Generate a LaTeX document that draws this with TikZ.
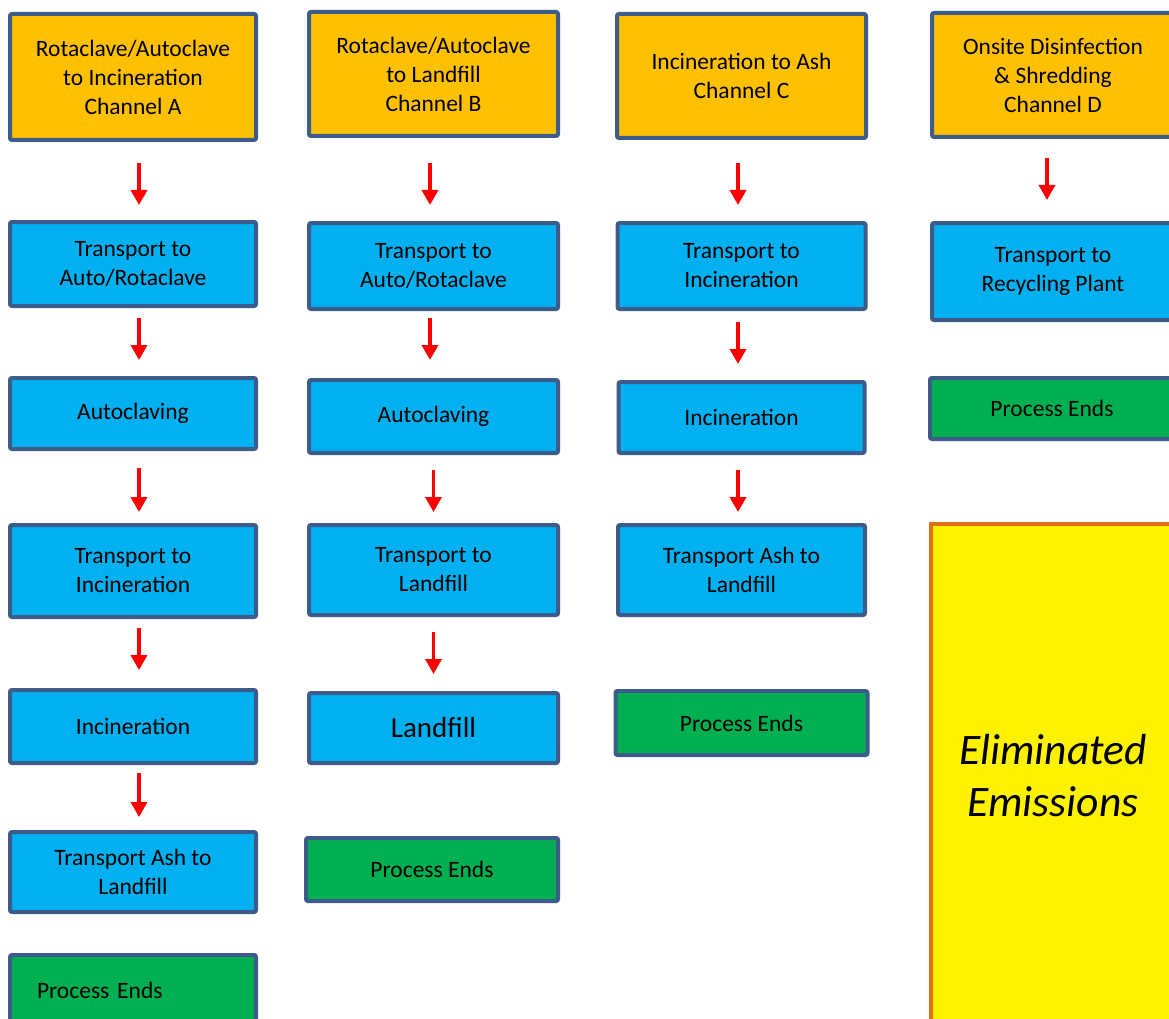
\documentclass[tikz,border=0pt]{standalone}
\usepackage{fontspec}
\setmainfont{Carlito}
\usetikzlibrary{arrows.meta}

\definecolor{hdorange}{RGB}{255,192,0}
\definecolor{stblue}{RGB}{0,176,240}
\definecolor{endgreen}{RGB}{0,176,80}
\definecolor{boxedge}{RGB}{62,92,138}
\definecolor{elimedge}{RGB}{226,112,24}

\begin{document}
\begin{tikzpicture}[
  x=1pt, y=-1pt,
  box/.style={draw=boxedge, line width=4pt, rounded corners=2pt, align=center,
              font=\fontsize{23.5}{29}\selectfont, inner sep=2pt},
  head/.style ={box, fill=hdorange},
  stage/.style={box, fill=stblue},
  finish/.style={box, fill=endgreen},
  elim/.style={draw=elimedge, line width=4pt, fill=yellow, align=center,
               font=\fontsize{43.5}{52}\selectfont\itshape},
  flow/.style={-{Triangle[width=16pt,length=15pt]}, red, line width=3.5pt},
]
  \useasboundingbox (0,0) rectangle (1169,1019);

  % channel A
  \node[head,  minimum width=246, minimum height=126] (a0) at (133, 77)
    {Rotaclave/Autoclave\\to Incineration\\Channel A};
  \node[stage, minimum width=246, minimum height=84]  (a1) at (133,264)
    {Transport to\\Auto/Rotaclave};
  \node[stage, minimum width=246, minimum height=71]  (a2) at (133,413.5) {Autoclaving};
  \node[stage, minimum width=246, minimum height=92]  (a3) at (133,571)
    {Transport to\\Incineration};
  \node[stage, minimum width=246, minimum height=73]  (a4) at (133,726.5) {Incineration};
  \node[stage, minimum width=246, minimum height=80]  (a5) at (133,872)
    {Transport Ash to\\Landfill};
  \node[finish, minimum width=246, minimum height=70, text width=192,
        inner xsep=27, align=left] (a6) at (133,990) {Process Ends};

  \draw[flow] ([xshift=6pt,yshift=-21pt]a0.south) -- ([xshift=6pt,yshift=15pt]a1.north);
  \draw[flow] ([xshift=6pt,yshift=-10pt]a1.south) -- ([xshift=6pt,yshift=16pt]a2.north);
  \draw[flow] ([xshift=6pt,yshift=-17pt]a2.south) -- ([xshift=6pt,yshift=11pt]a3.north);
  \draw[flow] ([xshift=6pt,yshift=-9pt]a3.south)  -- ([xshift=6pt,yshift=18pt]a4.north);
  \draw[flow] ([xshift=6pt,yshift=-8pt]a4.south)  -- ([xshift=6pt,yshift=13pt]a5.north);

  % channel B
  \node[head,  minimum width=249, minimum height=124] (b0) at (433.5, 74)
    {Rotaclave/Autoclave\\to Landfill\\Channel B};
  \node[stage, minimum width=249, minimum height=86]  (b1) at (433.5,266)
    {Transport to\\Auto/Rotaclave};
  \node[stage, minimum width=249, minimum height=73]  (b2) at (433.5,416.5) {Autoclaving};
  \node[stage, minimum width=249, minimum height=90]  (b3) at (433.5,570)
    {Transport to\\Landfill};
  \node[stage, minimum width=249, minimum height=70,
        font=\fontsize{29}{32}\selectfont] (b4) at (433.5,728) {Landfill};
  \node[finish, minimum width=252, minimum height=63] (b5) at (432,869.5) {Process Ends};

  \draw[flow] ([xshift=-3.5pt,yshift=-25pt]b0.south) -- ([xshift=-3.5pt,yshift=16pt]b1.north);
  \draw[flow] ([xshift=-3.5pt,yshift=-7pt]b1.south)  -- ([xshift=-3.5pt,yshift=18pt]b2.north);
  \draw[flow] ([yshift=-15pt]b2.south) -- ([yshift=11pt]b3.north);
  \draw[flow] ([yshift=-15pt]b3.south) -- ([yshift=17pt]b4.north);

  % channel C
  \node[head,  minimum width=249, minimum height=124] (c0) at (741.5, 76)
    {Incineration to Ash\\Channel C};
  \node[stage, minimum width=248, minimum height=86]  (c1) at (741.5,266)
    {Transport to\\Incineration};
  \node[stage, minimum width=246, minimum height=71]  (c2) at (741.5,417.5) {Incineration};
  \node[stage, minimum width=247, minimum height=90]  (c3) at (741.5,570)
    {Transport Ash to\\Landfill};
  \node[finish, minimum width=252, minimum height=64] (c4) at (741.5,723) {Process Ends};

  \draw[flow] ([xshift=-3.5pt,yshift=-23pt]c0.south) -- ([xshift=-3.5pt,yshift=16pt]c1.north);
  \draw[flow] ([xshift=-3.5pt,yshift=-11pt]c1.south) -- ([xshift=-3.5pt,yshift=16pt]c2.north);
  \draw[flow] ([xshift=-3.5pt,yshift=-15pt]c2.south) -- ([xshift=-3.5pt,yshift=11pt]c3.north);

  % channel D
  \node[head,  minimum width=242, minimum height=124] (d0) at (1053, 75)
    {Onsite Disinfection\\\& Shredding\\Channel D};
  \node[stage, minimum width=242, minimum height=97]  (d1) at (1053,271.5)
    {Transport to\\Recycling Plant};
  \node[finish, minimum width=244, minimum height=61] (d2) at (1052,408.5) {Process Ends};
  \node[elim, minimum width=244, minimum height=504] (em) at (1053,776)
    {Eliminated\\Emissions};

  \draw[flow] ([xshift=-6pt,yshift=-19pt]d0.south) -- ([xshift=-6pt,yshift=21pt]d1.north);
\end{tikzpicture}
\end{document}
